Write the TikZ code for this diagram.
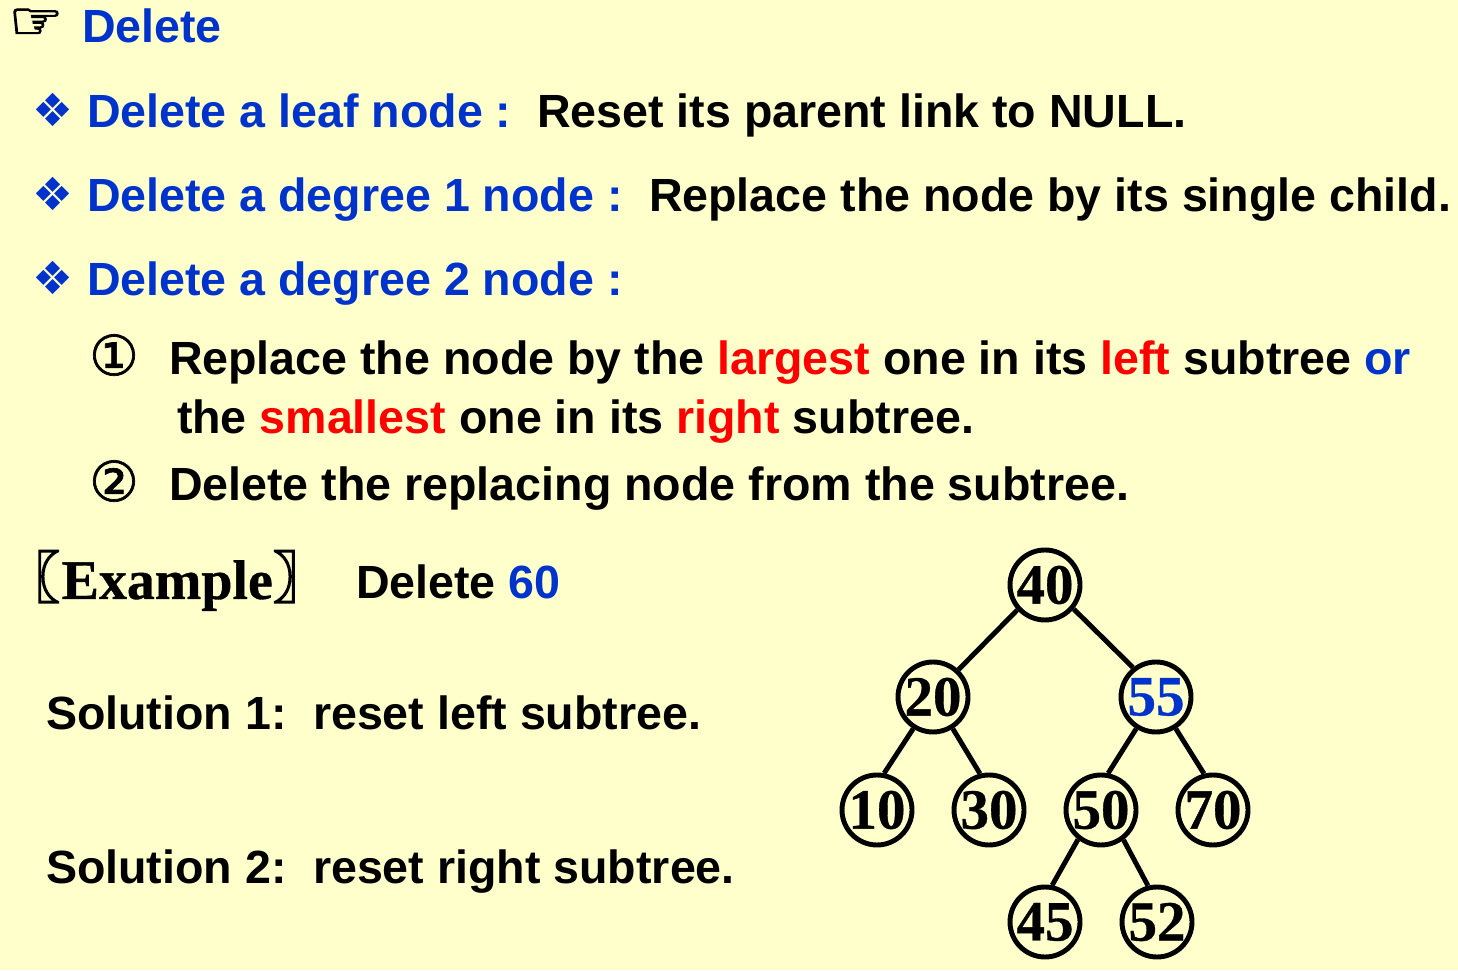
\documentclass[tikz,border=0pt]{standalone}
\usepackage{fontspec}
\setmainfont{Liberation Sans}
\newfontfamily\symfont{DejaVu Sans}
\newfontfamily\handfont[FakeBold=2.5]{DejaVu Sans}
\newfontfamily\ringfont[FakeBold=1.2]{DejaVu Sans}
\newfontfamily\cjkfont[FakeBold=3]{Noto Sans CJK SC}
\newfontfamily\numfont[BoldFeatures={FakeBold=0.6}]{Liberation Serif}
\usepackage{xcolor}
\definecolor{paper}{HTML}{FFFFCC}
\definecolor{headblue}{HTML}{0033CC}
\definecolor{hotred}{HTML}{FF0000}
\tikzset{txt/.style={anchor=base west, inner sep=0pt, outer sep=0pt, font=\fontsize{13.25}{16}\selectfont\bfseries}}
\tikzset{bluetxt/.style={txt, text=headblue}}
\tikzset{sym/.style={inner sep=0pt, outer sep=0pt}}
\tikzset{treenode/.style={shape=circle, draw=black, line width=1.4pt, minimum size=0.70cm, inner sep=0pt, font=\fontsize{16.2}{16}\selectfont\numfont\bfseries}}
\tikzset{treeedge/.style={draw=black, line width=1.4pt}}
\newcommand{\hot}[1]{\textcolor{hotred}{#1}}
\newcommand{\cool}[1]{\textcolor{headblue}{#1}}

\begin{document}
\begin{tikzpicture}

            \useasboundingbox (0,0) rectangle (14.58,9.70);
            \fill[paper] (0,0) rectangle (14.58,9.70);

            \node[sym, xscale=1.15, font=\fontsize{15}{15}\selectfont\handfont] (hand) at (0.36,9.46) {☞};
            \node[bluetxt] (title) at (0.82,9.275) {Delete};

            \node[sym, text=headblue, font=\fontsize{13}{13}\selectfont\symfont] (dia1) at (0.53,8.60) {❖};
            \node[sym, text=headblue, font=\fontsize{13}{13}\selectfont\symfont] (dia2) at (0.53,7.76) {❖};
            \node[sym, text=headblue, font=\fontsize{13}{13}\selectfont\symfont] (dia3) at (0.53,6.92) {❖};
            \node[bluetxt] (leaf) at (0.87,8.425) {Delete a leaf node :};
            \node[txt] (leafdo) at (5.37,8.425) {Reset its parent link to NULL.};
            \node[bluetxt] (one) at (0.87,7.585) {Delete a degree 1 node :};
            \node[txt] (onedo) at (6.49,7.585) {Replace the node by its single child.};
            \node[bluetxt] (two) at (0.87,6.745) {Delete a degree 2 node :};

            \node[sym, font=\fontsize{15.8}{15}\selectfont\ringfont] (num1) at (1.14,6.15) {①};
            \node[txt] (stepa) at (1.69,5.955) {Replace the node by the \hot{largest} one in its \hot{left} subtree \cool{or}};
            \node[txt] (stepb) at (1.77,5.365) {the \hot{smallest} one in its \hot{right} subtree.};
            \node[sym, font=\fontsize{15.8}{15}\selectfont\ringfont] (num2) at (1.14,4.89) {②};
            \node[txt] (stepc) at (1.69,4.695) {Delete the replacing node from the subtree.};

            \node[anchor=base west, inner sep=0pt, font=\fontsize{15.9}{16}\selectfont\numfont\bfseries] (example) at (0.61,3.71) {Example};
            \node[anchor=base east, inner sep=0pt, font=\fontsize{16}{16}\selectfont\cjkfont] (lbr) at (0.61,3.72) {〖};
            \node[anchor=base west, inner sep=0pt, font=\fontsize{16}{16}\selectfont\cjkfont] (rbr) at (2.72,3.72) {〗};
            \node[txt] (del) at (3.56,3.715) {Delete \cool{60}};
            \node[txt] (sol1) at (0.46,2.405) {Solution 1:};
            \node[txt] (sol1do) at (3.13,2.405) {reset left subtree.};
            \node[txt] (sol2) at (0.46,0.865) {Solution 2:};
            \node[txt] (sol2do) at (3.13,0.865) {reset right subtree.};

            \node[treenode] (n40) at (10.45,3.85) {40};
            \node[treenode] (n20) at (9.33,2.73) {20};
            \node[treenode, text=headblue] (n55) at (11.56,2.73) {55};
            \node[treenode] (n10) at (8.77,1.60) {10};
            \node[treenode] (n30) at (9.89,1.60) {30};
            \node[treenode] (n50) at (11.01,1.60) {50};
            \node[treenode] (n70) at (12.13,1.60) {70};
            \node[treenode] (n45) at (10.45,0.48) {45};
            \node[treenode] (n52) at (11.57,0.48) {52};

            \draw[treeedge] (n40.222) -- (n20.47);
            \draw[treeedge] (n40.320) -- (n55.128);
            \draw[treeedge] (n20.238) -- (n10.79);
            \draw[treeedge] (n20.302) -- (n30.104);
            \draw[treeedge] (n55.238) -- (n50.79);
            \draw[treeedge] (n55.302) -- (n70.104);
            \draw[treeedge] (n50.232) -- (n45.79);
            \draw[treeedge] (n50.307) -- (n52.104);

        \end{tikzpicture}
\end{document}
